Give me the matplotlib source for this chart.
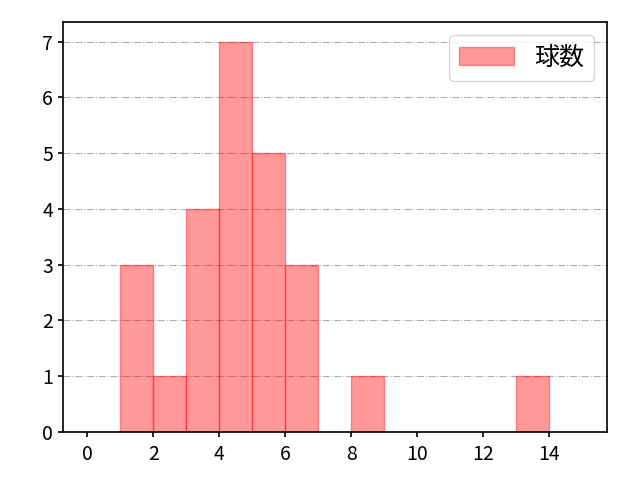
import numpy as np
import matplotlib.pyplot as plt

plt.rcParams["font.family"] = ["Noto Sans CJK JP", "DejaVu Sans"]

# histogram: bin edges 0..15, counts per bin
bin_edges = list(range(0, 16))
counts = [0, 3, 1, 4, 7, 5, 3, 0, 1, 0, 0, 0, 0, 1, 0]
label = "球数"


def main():
    fig, ax = plt.subplots(figsize=(6.4, 4.8), dpi=100)

    centers = np.array(bin_edges[:-1]) + 0.5
    ax.hist(
        centers,
        bins=bin_edges,
        weights=counts,
        color="red",
        alpha=0.4,
        edgecolor="red",
        linewidth=1,
        label=label,
    )

    ax.set_xticks(range(0, 15, 2))
    ax.set_yticks(range(0, 8))
    ax.tick_params(labelsize=14, width=1.2)
    ax.tick_params(axis="x", pad=5)
    for sp in ax.spines.values():
        sp.set_linewidth(1.2)
    ax.grid(axis="y", linestyle="-.", color="#b0b0b0", linewidth=0.8)
    ax.set_axisbelow(True)
    ax.legend(loc="upper right", fontsize=18, handlelength=2.2)

    fig.subplots_adjust(left=0.098, right=0.948, top=0.954, bottom=0.1)
    fig.savefig("out.png")


if __name__ == "__main__":
    main()
